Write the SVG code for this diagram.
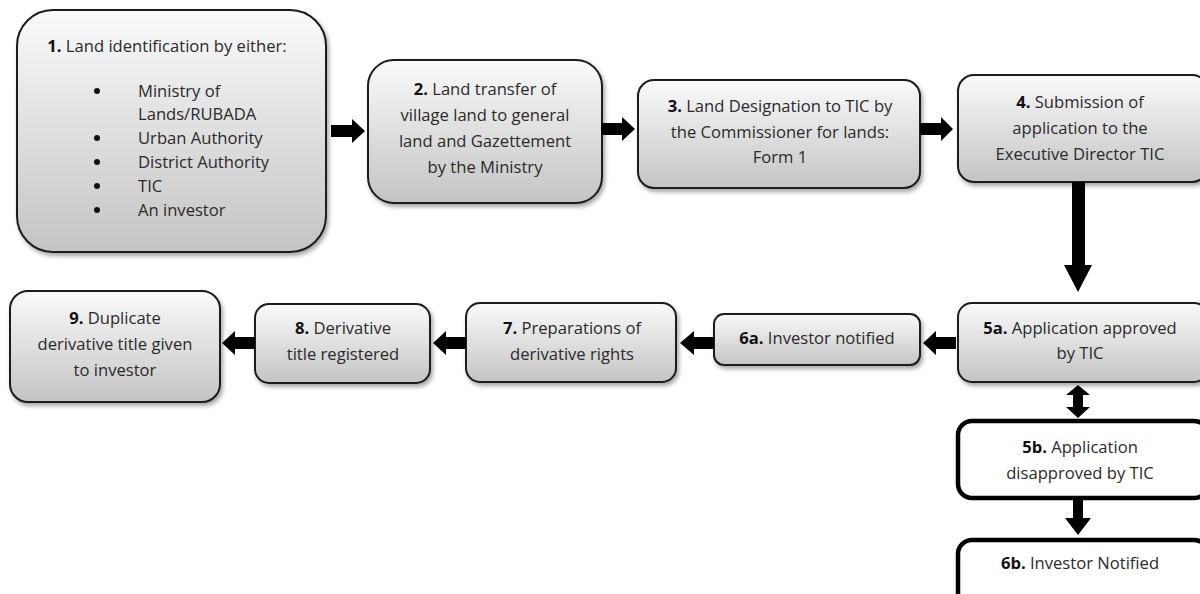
<svg xmlns="http://www.w3.org/2000/svg" width="1200" height="594" viewBox="0 0 1200 594">
<defs>
<linearGradient id="g" x1="0" y1="0" x2="0" y2="1">
<stop offset="0" stop-color="#fafafa"/>
<stop offset="1" stop-color="#c4c4c4"/>
</linearGradient>
<filter id="sh" x="-10%" y="-10%" width="125%" height="130%">
<feDropShadow dx="2" dy="3" stdDeviation="2" flood-color="#000" flood-opacity="0.35"/>
</filter>
<style>
.b{fill:url(#g);stroke:#1a1a1a;stroke-width:2;filter:url(#sh)}
.w{fill:#fff;stroke:#000;stroke-width:4.5}
text{font-family:"Open Sans","Liberation Sans",sans-serif;font-size:16.6px;fill:#2a2a2a;text-anchor:middle}
.l{text-anchor:start}
.n{font-weight:bold;fill:#111}
.a{fill:#000}
</style>
</defs>
<rect width="1200" height="594" fill="#fff"/>
<g id="n1">
<rect class="b" x="17" y="10" width="309" height="242" rx="36"/>
<text x="167" y="52"><tspan class="n">1.</tspan> Land identification by either:</text>
<g fill="#111"><circle cx="97" cy="91" r="3"/><circle cx="97" cy="138" r="3"/><circle cx="97" cy="162" r="3"/><circle cx="97" cy="186" r="3"/><circle cx="97" cy="210" r="3"/></g>
<text class="l" x="138" y="97">Ministry of</text>
<text class="l" x="138" y="120">Lands/RUBADA</text>
<text class="l" x="138" y="144">Urban Authority</text>
<text class="l" x="138" y="168">District Authority</text>
<text class="l" x="138" y="192">TIC</text>
<text class="l" x="138" y="216">An investor</text>
</g>
<g id="n2">
<rect class="b" x="368" y="60" width="234" height="143" rx="26"/>
<text x="485" y="95"><tspan class="n">2.</tspan> Land transfer of</text>
<text x="485" y="121">village land to general</text>
<text x="485" y="147">land and Gazettement</text>
<text x="485" y="173">by the Ministry</text>
</g>
<g id="n3">
<rect class="b" x="638" y="80" width="282" height="108" rx="16"/>
<text x="780" y="112"><tspan class="n">3.</tspan> Land Designation to TIC by</text>
<text x="780" y="138">the Commissioner for lands:</text>
<text x="780" y="163">Form 1</text>
</g>
<g id="n4">
<rect class="b" x="958" y="75" width="250" height="107" rx="16"/>
<text x="1080" y="108"><tspan class="n">4.</tspan> Submission of</text>
<text x="1080" y="134">application to the</text>
<text x="1080" y="160">Executive Director TIC</text>
</g>
<g id="n5a">
<rect class="b" x="958" y="303" width="250" height="79" rx="14"/>
<text x="1080" y="334"><tspan class="n">5a.</tspan> Application approved</text>
<text x="1080" y="359">by TIC</text>
</g>
<g id="n5b">
<rect class="w" x="958" y="421" width="250" height="77" rx="14"/>
<text x="1080" y="453"><tspan class="n">5b.</tspan> Application</text>
<text x="1080" y="479">disapproved by TIC</text>
</g>
<g id="n6b">
<rect class="w" x="958" y="540" width="250" height="70" rx="14"/>
<text x="1080" y="569"><tspan class="n">6b.</tspan> Investor Notified</text>
</g>
<g id="n6a">
<rect class="b" x="714" y="314" width="206" height="51" rx="10"/>
<text x="817" y="344"><tspan class="n">6a.</tspan> Investor notified</text>
</g>
<g id="n7">
<rect class="b" x="466" y="303" width="210" height="79" rx="14"/>
<text x="572" y="334"><tspan class="n">7.</tspan> Preparations of</text>
<text x="572" y="360">derivative rights</text>
</g>
<g id="n8">
<rect class="b" x="255" y="304" width="175" height="79" rx="14"/>
<text x="343" y="334"><tspan class="n">8.</tspan> Derivative</text>
<text x="343" y="360">title registered</text>
</g>
<g id="n9">
<rect class="b" x="10" y="291" width="210" height="111" rx="18"/>
<text x="115" y="324"><tspan class="n">9.</tspan> Duplicate</text>
<text x="115" y="350">derivative title given</text>
<text x="115" y="376">to investor</text>
</g>
<g id="connectors" class="a">
<polygon points="331,125 352,125 352,119 365,131 352,143 352,137 331,137"/>
<polygon points="601,123 622,123 622,117 635,129 622,141 622,135 601,135"/>
<polygon points="920,123 941,123 941,117 953,129 941,141 941,135 920,135"/>
<polygon points="1072,182 1085,182 1085,265 1092,265 1078,292 1064,265 1072,265"/>
<polygon points="956,337 936,337 936,331 923,343 936,355 936,349 956,349"/>
<polygon points="714,337 694,337 694,331 680,343 694,355 694,349 714,349"/>
<polygon points="466,337 446,337 446,331 433,343 446,355 446,349 466,349"/>
<polygon points="255,337 235,337 235,331 222,343 235,355 235,349 255,349"/>
<polygon points="1078,385 1090,395 1083,395 1083,407 1090,407 1078,418 1066,407 1073,407 1073,395 1066,395"/>
<polygon points="1073,500 1083,500 1083,518 1091,518 1078,535 1065,518 1073,518"/>
</g>
</svg>
